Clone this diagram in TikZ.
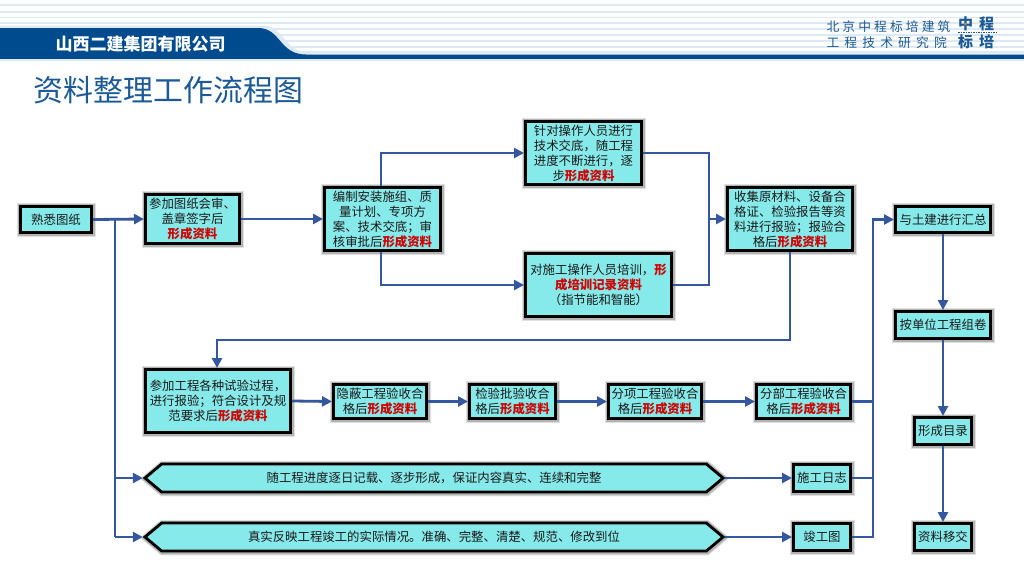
\documentclass[tikz,border=0pt]{standalone}
\usepackage{fontspec}
\setmainfont{Noto Sans CJK SC}
\newfontfamily\headfont[LetterSpace=24]{Noto Sans CJK SC}
\newfontfamily\headfontwide[LetterSpace=40]{Noto Sans CJK SC}
\newfontfamily\logofont[LetterSpace=40]{Noto Sans CJK SC}
\usetikzlibrary{arrows.meta,shapes.symbols}
\definecolor{boxfill}{HTML}{87EAEA}
\definecolor{linkblue}{HTML}{35579F}
\definecolor{bandblue}{HTML}{004B8D}
\definecolor{titleblue}{HTML}{1B5A96}
\definecolor{stripe}{HTML}{DDE9F5}
\definecolor{hired}{HTML}{D00000}
\definecolor{logodot}{HTML}{EE8A1E}
\newcommand{\xc}[1]{\textcolor{hired}{\bfseries #1}}
\tikzset{
  softshadow/.style={
    preaction={draw=black,draw opacity=.12,line width=7.5pt,transform canvas={xshift=.6pt,yshift=-.6pt}},
    preaction={draw=black,draw opacity=.20,line width=5.5pt,transform canvas={xshift=.6pt,yshift=-.6pt}}},
  flowbox/.style={draw=black,fill=boxfill,line width=2.8pt,inner sep=0pt,align=center,
    font=\fontsize{12.4pt}{15pt}\selectfont,text=black!90,softshadow},
  flowhex/.style={flowbox,shape=signal,signal to=west and east,signal pointer angle=80},
  link/.style={draw=linkblue,line width=2.8pt},
  arrowlink/.style={link,-{Triangle[length=10pt,width=10pt]}}
}
\newcommand{\flownode}[6]{%
  \pgfmathsetmacro{\cx}{(#2+#4)/2}\pgfmathsetmacro{\cy}{(#3+#5)/2}%
  \pgfmathsetmacro{\bw}{#4-#2-2.8}\pgfmathsetmacro{\bh}{#5-#3-2.8}%
  \node[flowbox,minimum width=\bw pt,minimum height=\bh pt] (#1) at (\cx,\cy) {#6};}
\begin{document}
\begin{tikzpicture}[x=1pt,y=-1pt]
\useasboundingbox (0,0) rectangle (1024,576);
\fill[white] (0,0) rectangle (1024,576);
% header stripes
\foreach \yy in {4.7,11.7,17.3,23,29,35,40.7,46.7,52}{
  \draw[stripe,line width=1.6pt] (0,\yy) -- (1024,\yy);}
\fill[stripe!70] (0,53) rectangle (1024,55);
\draw[stripe,line width=1.2pt] (0,60.5) -- (1024,60.5);
\fill[stripe] (0,25.5) -- (262,25.5) .. controls (285,25.5) and (283,53) .. (312,53) -- (312,56) -- (0,56) -- cycle;
\fill[bandblue] (0,28) -- (258,28) .. controls (281,28) and (279,54.5) .. (306,54.5) -- (1024,54.5) -- (1024,59) -- (0,59) -- cycle;
\node[text=white,font=\fontsize{17pt}{18pt}\selectfont\bfseries,anchor=center] (company) at (140.5,44.5) {山西二建集团有限公司};
\node[text=titleblue,font=\fontsize{29.9pt}{30pt}\selectfont] (title) at (168.5,90) {资料整理工作流程图};
\node[text=titleblue,font=\headfont\fontsize{12.8pt}{14pt}\selectfont,anchor=west] (inst1) at (823,26.5) {北京中程标培建筑};
\node[text=titleblue,font=\headfontwide\fontsize{12.8pt}{14pt}\selectfont,anchor=west] (inst2) at (823,42.5) {工程技术研究院};
\node[text=titleblue,font=\logofont\fontsize{15pt}{15pt}\selectfont\bfseries,anchor=west,inner sep=0pt] (logo1) at (958,24) {中程};
\node[text=titleblue,font=\logofont\fontsize{15pt}{15pt}\selectfont\bfseries,anchor=west,inner sep=0pt] (logo2) at (958,41.5) {标培};
\draw[titleblue,line width=1pt,dash pattern=on 1.5pt off 1pt] (958,32.5) -- (996,32.5);
\fill[logodot] (965.5,24) circle (1.4pt);
% boxes
\flownode{a}{19}{205}{93}{234}{熟悉图纸}
\flownode{b}{144}{193}{241}{245}{参加图纸会审、\\盖章签字后\\\xc{形成资料}}
\flownode{c}{323}{186}{442}{252}{编制安装施组、质\\量计划、专项方\\案、技术交底；审\\核审批后\xc{形成资料}}
\flownode{d}{524}{120}{643}{186}{针对操作人员进行\\技术交底，随工程\\进度不断进行，逐\\步\xc{形成资料}}
\flownode{e}{524}{252}{673}{318}{对施工操作人员培训，\xc{形}\\\xc{成培训记录资料}\\（指节能和智能）}
\flownode{f}{726}{186}{854}{252}{收集原材料、设备合\\格证、检验报告等资\\料进行报验；报验合\\格后\xc{形成资料}}
\flownode{g}{144}{368}{292}{434}{参加工程各种试验过程，\\进行报验；符合设计及规\\范要求后\xc{形成资料}}
\flownode{h}{332}{383}{428}{420}{隐蔽工程验收合\\格后\xc{形成资料}}
\flownode{i}{468}{383}{557}{420}{检验批验收合\\格后\xc{形成资料}}
\flownode{j}{607}{383}{703}{420}{分项工程验收合\\格后\xc{形成资料}}
\flownode{k}{755}{383}{852}{420}{分部工程验收合\\格后\xc{形成资料}}
\flownode{l}{792}{463}{852}{493}{施工日志}
\flownode{m}{792}{522}{852}{552}{竣工图}
\flownode{n}{894}{205}{992}{234}{与土建进行汇总}
\flownode{o}{894}{310}{992}{340}{按单位工程组卷}
\flownode{p}{913}{416}{973}{446}{形成目录}
\flownode{q}{913}{522}{973}{552}{资料移交}
\node[flowhex,minimum width=578pt,minimum height=28pt] (hx1) at (434,478) {随工程进度逐日记载、逐步形成，保证内容真实、连续和完整};
\node[flowhex,minimum width=578pt,minimum height=28pt] (hx2) at (434,537) {真实反映工程竣工的实际情况。准确、完整、清楚、规范、修改到位};
% junctions
\coordinate (ja) at (115,219.5);
\coordinate (jb) at (115,478);
\coordinate (jc) at (115,537);
\coordinate (jd) at (381,153);
\coordinate (je) at (381,285);
\coordinate (jf) at (709,153);
\coordinate (jg) at (709,285);
\coordinate (jh) at (709,219);
\coordinate (ji) at (790,340);
\coordinate (jj) at (217,340);
\coordinate (jk) at (873,401.5);
\coordinate (jl) at (873,478);
\coordinate (jm) at (873,537);
\coordinate (jn) at (873,219.5);
% connectors
\draw[arrowlink] (a.east) -- (b.west);
\draw[link] (ja) -- (jc);
\draw[arrowlink] (jb) -- (hx1.west);
\draw[arrowlink] (jc) -- (hx2.west);
\draw[arrowlink] (b.east) -- (c.west);
\draw[arrowlink] (c.north -| jd) -- (jd) -- (d.west);
\draw[arrowlink] (c.south -| je) -- (je) -- (e.west);
\draw[link] (d.east) -- (jf) -- (jg) -- (e.east);
\draw[arrowlink] (jh) -- (f.west);
\draw[arrowlink] (f.south -| ji) -- (ji) -- (jj) -- (g.north -| jj);
\draw[arrowlink] (g.east) -- (h.west);
\draw[arrowlink] (h.east) -- (i.west);
\draw[arrowlink] (i.east) -- (j.west);
\draw[arrowlink] (j.east) -- (k.west);
\draw[link] (k.east) -- (jk);
\draw[arrowlink] (hx1.east) -- (l.west);
\draw[arrowlink] (hx2.east) -- (m.west);
\draw[link] (l.east) -- (jl);
\draw[arrowlink] (m.east) -- (jm) -- (jn) -- (n.west);
\draw[arrowlink] (n.south) -- (o.north);
\draw[arrowlink] (o.south) -- (p.north);
\draw[arrowlink] (p.south) -- (q.north);
\end{tikzpicture}
\end{document}
